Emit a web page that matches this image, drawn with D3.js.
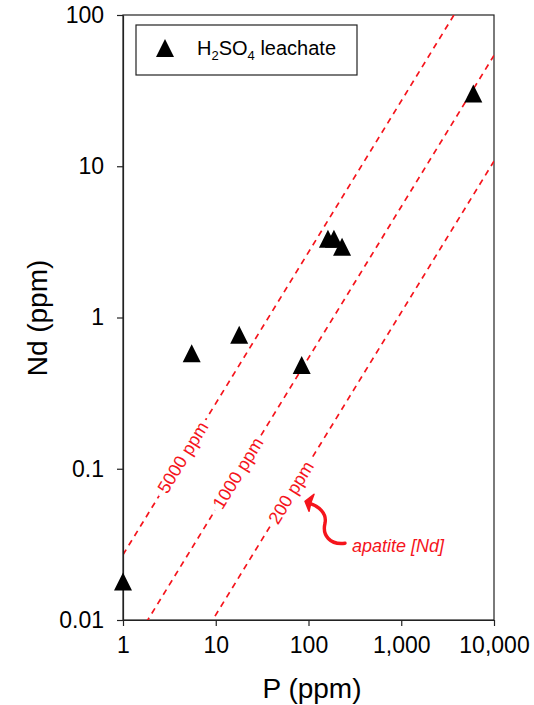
<!DOCTYPE html>
<html>
<head>
<meta charset="utf-8">
<script src="https://cdn.jsdelivr.net/npm/d3@7"></script>
<style>
    body { margin: 0; background: #fff; }
    svg { display: block; font-family: Arial, "Liberation Sans", sans-serif; }
</style>
</head>
<body>
<svg id="chart" width="534" height="705"></svg>
<script>
// leachate samples
const pValues = [1, 5.5, 17.9, 84.5, 162, 188, 230, 5980];
const ndValues = [0.018, 0.58, 0.77, 0.486, 3.32, 3.32, 2.94, 30.3];

// reference lines: Nd content of apatite (ppm), P in apatite ~18.5 wt%
const apatiteNd = [5000, 1000, 200];
const apatiteP = 185000;
const lineLabelP = [4.4, 17.3, 64.5];

const xTicks = [1, 10, 100, 1000, 10000];
const yTicks = [0.01, 0.1, 1, 10, 100];

const red = '#f5141c';

let svg = d3.select('#chart');

let x = d3.scaleLog().domain([1, 10000]).range([123, 494]);
let y = d3.scaleLog().domain([0.01, 100]).range([620, 15]);

// frame
svg.append('rect')
    .attr('x', 123)
    .attr('y', 15)
    .attr('width', 494 - 123)
    .attr('height', 620 - 15)
    .attr('fill', 'none')
    .attr('stroke', '#222')
    .attr('stroke-width', 1.2);

svg.append('clipPath')
    .attr('id', 'plot-clip')
    .append('rect')
    .attr('x', 123)
    .attr('y', 15)
    .attr('width', 494 - 123)
    .attr('height', 620 - 15);

// apatite lines
let lineGen = d3.line()
    .x(d => x(d[0]))
    .y(d => y(d[1]));

let lines = svg.append('g').attr('clip-path', 'url(#plot-clip)');

apatiteNd.forEach(c => {
    let k = c / apatiteP;
    lines.append('path')
        .attr('d', lineGen(x.domain().map(p => [p, p * k])))
        .attr('fill', 'none')
        .attr('stroke', red)
        .attr('stroke-width', 1.7)
        .attr('stroke-dasharray', '6,5');
});

let slopeAngle = Math.atan2(y(1) - y(10), x(10) - x(1)) * 180 / Math.PI;

apatiteNd.forEach((c, i) => {
    let p = lineLabelP[i];
    let px = x(p),
        py = y(p * c / apatiteP);

    svg.append('text')
        .attr('transform', `translate(${px},${py}) rotate(${-slopeAngle})`)
        .attr('text-anchor', 'middle')
        .attr('dy', '0.35em')
        .attr('font-size', 18)
        .attr('fill', red)
        .attr('stroke', '#fff')
        .attr('stroke-width', 10)
        .attr('paint-order', 'stroke')
        .text(c + ' ppm');
});

// axes
let xAxis = svg.append('g')
    .attr('transform', 'translate(0,620)')
    .call(d3.axisBottom(x)
        .tickValues(xTicks)
        .tickFormat(d3.format(','))
        .tickSize(6)
        .tickSizeOuter(0)
        .tickPadding(11));

let yAxis = svg.append('g')
    .attr('transform', 'translate(123,0)')
    .call(d3.axisLeft(y)
        .tickValues(yTicks)
        .tickFormat(d => String(d))
        .tickSize(6)
        .tickSizeOuter(0)
        .tickPadding(13));

[xAxis, yAxis].forEach(a => {
    a.selectAll('.domain').attr('stroke', '#222').attr('stroke-width', 1.2);
    a.selectAll('.tick line').attr('stroke', '#222').attr('stroke-width', 1.2);
    a.selectAll('.tick text')
        .attr('font-size', 23)
        .attr('font-family', 'Arial, "Liberation Sans", sans-serif')
        .attr('fill', '#000');
});

// triangle marker, centered on its bounding box
function triangle(w, h) {
    return `M0,${-h / 2}L${w / 2},${h / 2}L${-w / 2},${h / 2}Z`;
}

svg.append('g')
    .selectAll('path')
    .data(pValues.map((p, i) => [p, ndValues[i]]))
    .enter()
    .append('path')
    .attr('d', triangle(18, 18))
    .attr('transform', d => `translate(${x(d[0])},${y(d[1])})`)
    .attr('fill', '#000');

// legend
let legend = svg.append('g');

legend.append('rect')
    .attr('x', 136)
    .attr('y', 25)
    .attr('width', 221)
    .attr('height', 50)
    .attr('fill', '#fff')
    .attr('stroke', '#222')
    .attr('stroke-width', 1.2);

legend.append('path')
    .attr('d', triangle(18, 18))
    .attr('transform', 'translate(165,48)')
    .attr('fill', '#000');

let legendText = legend.append('text')
    .attr('x', 197)
    .attr('y', 55)
    .attr('font-size', 20)
    .attr('fill', '#000');

legendText.append('tspan').text('H');
legendText.append('tspan').attr('font-size', 13).attr('dy', 5).text('2');
legendText.append('tspan').attr('dy', -5).text('SO');
legendText.append('tspan').attr('font-size', 13).attr('dy', 5).text('4');
legendText.append('tspan').attr('dy', -5).text(' leachate');

// annotation arrow
let tipX = x(91.7),
    tipY = y(0.061);

let note = svg.append('g')
    .attr('transform', `translate(${tipX},${tipY})`);

note.append('path')
    .attr('d', 'M40,42C25,44 17,34 20,22C22,12 14,5 4,2')
    .attr('fill', 'none')
    .attr('stroke', red)
    .attr('stroke-width', 3.4)
    .attr('stroke-linecap', 'round');

note.append('path')
    .attr('d', 'M0,0L9,-7L6,1L4,10Z')
    .attr('fill', red)
    .attr('stroke', red)
    .attr('stroke-width', 1.5)
    .attr('stroke-linejoin', 'round');

svg.append('text')
    .attr('x', 352)
    .attr('y', 552)
    .attr('font-size', 18)
    .attr('font-style', 'italic')
    .attr('fill', red)
    .text('apatite [Nd]');

// axis titles
svg.append('text')
    .attr('x', 312)
    .attr('y', 698)
    .attr('text-anchor', 'middle')
    .attr('font-size', 28)
    .attr('fill', '#000')
    .text('P (ppm)');

svg.append('text')
    .attr('transform', 'translate(47,318) rotate(-90)')
    .attr('text-anchor', 'middle')
    .attr('font-size', 28)
    .attr('fill', '#000')
    .text('Nd (ppm)');
</script>
</body>
</html>
